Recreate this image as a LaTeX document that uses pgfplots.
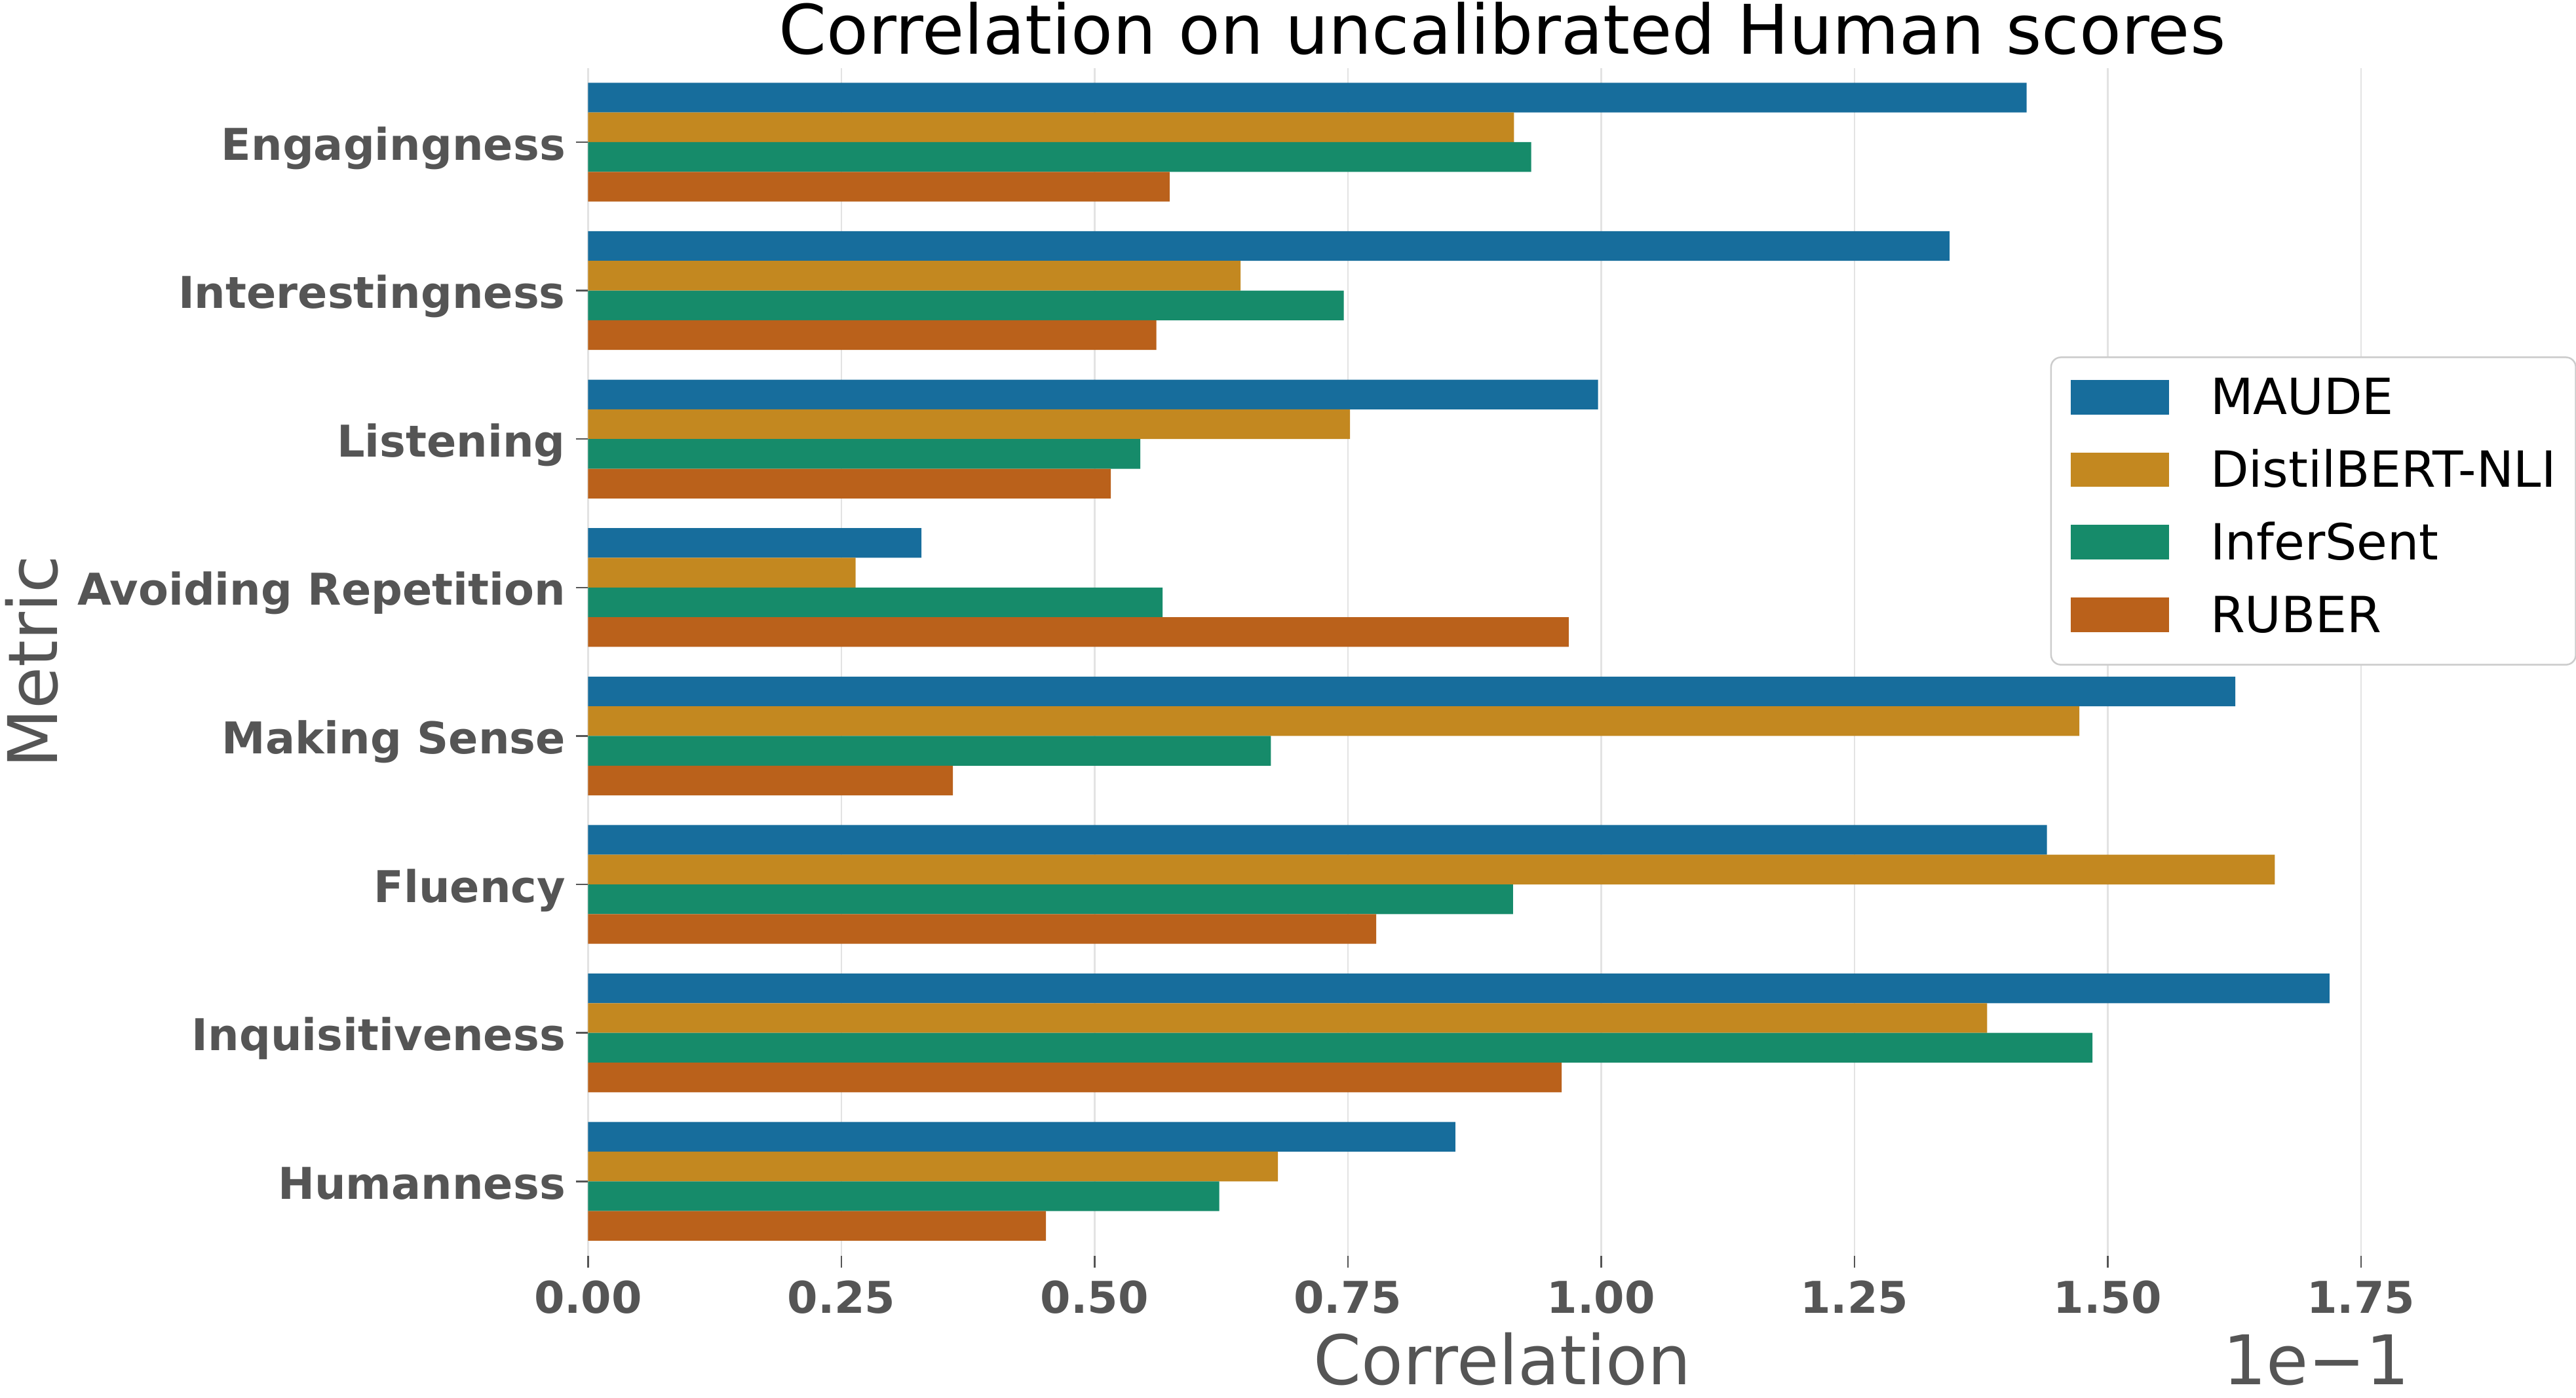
\documentclass[border=0pt]{standalone}
\usepackage{fontspec}
\setmainfont{DejaVu Sans}
\usepackage{pgfplots}
\usepackage{pgfplotstable}
\pgfplotsset{compat=1.18}

\definecolor{cMaude}{HTML}{176D9C}
\definecolor{cDistil}{HTML}{C38820}
\definecolor{cInfer}{HTML}{168B6A}
\definecolor{cRuber}{HTML}{BA611B}
\definecolor{tgray}{HTML}{555555}
\definecolor{gridc}{HTML}{E3E3E3}
\definecolor{legc}{HTML}{CCCCCC}

% correlation (x 1e-1), categories top to bottom
\pgfplotstableread{
idx maude distil infer ruber
0 1.420 0.914 0.931 0.574
1 1.344 0.644 0.746 0.561
2 0.997 0.752 0.545 0.516
3 0.329 0.264 0.567 0.968
4 1.626 1.472 0.674 0.360
5 1.440 1.665 0.913 0.778
6 1.719 1.381 1.485 0.961
7 0.856 0.681 0.623 0.452
}\corrtable

\begin{document}
\begin{tikzpicture}
\path[use as bounding box] (-214.8pt,-51.9pt) rectangle (726pt,458.7pt);
\begin{axis}[
    scale only axis,
    width=667.8pt, height=433.9pt,
    clip mode=individual,
    xbar, bar width=0.2,
    xmin=0, xmax=1.805,
    ymin=-0.5, ymax=7.5,
    y dir=reverse,
    ytick={0,1,2,3,4,5,6,7},
    yticklabels={Engagingness,Interestingness,Listening,Avoiding Repetition,Making Sense,Fluency,Inquisitiveness,Humanness},
    xtick={0,0.25,0.5,0.75,1,1.25,1.5,1.75},
    xticklabels={0.00,0.25,0.50,0.75,1.00,1.25,1.50,1.75},
    axis line style={draw=none},
    tick align=outside,
    major tick length=4.5pt,
    tick style={color=tgray, line width=0.6pt},
    xtick pos=lower, ytick pos=left,
    xmajorgrids,
    major grid style={color=gridc, line width=0.6pt},
    ticklabel style={font=\fontsize{16}{18}\selectfont\bfseries, text=tgray, inner sep=0pt},
    xticklabel style={anchor=base, yshift=-16.5pt},
    yticklabel style={anchor=base east, xshift=-3.6pt, yshift=-6.5pt},
    every axis title shift=0pt,
    title={Correlation on uncalibrated Human scores},
    title style={font=\fontsize{25}{28}\selectfont, at={(axis description cs:0.5,1.0115)}, anchor=base, inner sep=0pt},
    xlabel={Correlation},
    xlabel style={font=\fontsize{25}{28}\selectfont, text=tgray, at={(axis description cs:0.5,-0.1086)}, anchor=base, inner sep=0pt},
    ylabel={Metric},
    ylabel style={font=\fontsize{25}{28}\selectfont, text=tgray, at={(axis description cs:-0.2902,0.5)}, anchor=base, inner sep=0pt},
    legend image code/.code={\fill[#1, draw=none, sharp corners] (0pt,0.1pt) rectangle (36pt,12.7pt);},
    legend style={
        at={(axis description cs:0.7996,0.757)}, anchor=north west,
        draw=legc, line width=0.6pt, rounded corners=3.6pt, fill=white,
        font=\fontsize{18.2}{20}\selectfont,
        inner xsep=7.2pt, inner ysep=7.35pt,
        row sep=8.4pt, column sep=15pt,
        nodes={inner sep=0pt, text height=13.6pt, text depth=4.5pt},
        cells={anchor=base west},
    },
]
\addplot[fill=cMaude, draw=none, bar shift=-0.3] table[x=maude, y=idx] {\corrtable};
\addlegendentry{MAUDE}
\addplot[fill=cDistil, draw=none, bar shift=-0.1] table[x=distil, y=idx] {\corrtable};
\addlegendentry{DistilBERT-NLI}
\addplot[fill=cInfer, draw=none, bar shift=0.1] table[x=infer, y=idx] {\corrtable};
\addlegendentry{InferSent}
\addplot[fill=cRuber, draw=none, bar shift=0.3] table[x=ruber, y=idx] {\corrtable};
\addlegendentry{RUBER}
\node[anchor=base east, font=\fontsize{25}{28}\selectfont, text=tgray, inner sep=0pt] at (axis description cs:0.9964,-0.1086) {1e−1};
\end{axis}
\end{tikzpicture}
\end{document}
